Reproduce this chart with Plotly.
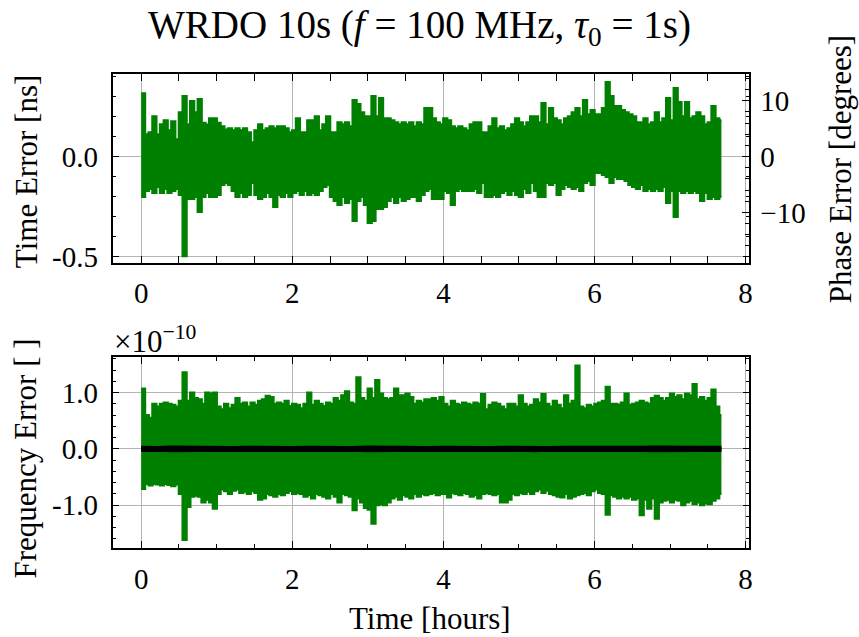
import numpy as np
import plotly.graph_objects as go

# ---------------- data ----------------
# sample spacing 0.05 h, from 0.00 to 7.65 h; local maxima / minima of each bin
time_hi_ns = [0.314, 0.11, 0.12, 0.20, 0.11, 0.16, 0.18, 0.13, 0.175, 0.085,
              0.22, 0.30, 0.16, 0.276, 0.22, 0.286, 0.167, 0.158, 0.19, 0.19,
              0.167, 0.15, 0.134, 0.14, 0.13, 0.14, 0.13, 0.14, 0.12, 0.07,
              0.13, 0.16, 0.13, 0.14, 0.15, 0.14, 0.15, 0.15, 0.14, 0.12,
              0.13, 0.19, 0.12, 0.12, 0.18, 0.18, 0.20, 0.13, 0.16, 0.20,
              0.12, 0.12, 0.17, 0.16, 0.17, 0.15, 0.28, 0.26, 0.22, 0.20,
              0.20, 0.30, 0.20, 0.29, 0.19, 0.19, 0.18, 0.17, 0.16, 0.17,
              0.16, 0.17, 0.15, 0.17, 0.16, 0.24, 0.24, 0.19, 0.17, 0.16,
              0.19, 0.18, 0.15, 0.14, 0.15, 0.14, 0.13, 0.16, 0.17, 0.17,
              0.12, 0.12, 0.15, 0.19, 0.14, 0.15, 0.13, 0.14, 0.16, 0.19,
              0.17, 0.15, 0.17, 0.20, 0.20, 0.17, 0.265, 0.16, 0.24, 0.19,
              0.18, 0.16, 0.19, 0.20, 0.22, 0.24, 0.20, 0.28, 0.21, 0.23,
              0.21, 0.21, 0.24, 0.37, 0.30, 0.25, 0.25, 0.23, 0.22, 0.21,
              0.20, 0.17, 0.17, 0.19, 0.16, 0.17, 0.22, 0.17, 0.19, 0.29,
              0.18, 0.34, 0.27, 0.20, 0.27, 0.19, 0.20, 0.22, 0.20, 0.16,
              0.17, 0.25, 0.19, 0.18]
time_lo_ns = [-0.20, -0.17, -0.16, -0.18, -0.15, -0.18, -0.16, -0.18, -0.17, -0.16,
              -0.19, -0.495, -0.21, -0.21, -0.20, -0.275, -0.20, -0.18, -0.20, -0.20,
              -0.19, -0.14, -0.13, -0.14, -0.17, -0.20, -0.18, -0.20, -0.19, -0.13,
              -0.19, -0.21, -0.20, -0.18, -0.20, -0.25, -0.19, -0.20, -0.18, -0.20,
              -0.18, -0.17, -0.19, -0.17, -0.19, -0.18, -0.19, -0.17, -0.15, -0.14,
              -0.20, -0.22, -0.24, -0.20, -0.23, -0.21, -0.32, -0.22, -0.20, -0.24,
              -0.33, -0.32, -0.26, -0.26, -0.25, -0.22, -0.20, -0.23, -0.20, -0.22,
              -0.21, -0.20, -0.20, -0.22, -0.19, -0.17, -0.16, -0.21, -0.21, -0.21,
              -0.17, -0.18, -0.24, -0.17, -0.16, -0.17, -0.17, -0.17, -0.16, -0.18,
              -0.13, -0.20, -0.20, -0.19, -0.20, -0.18, -0.17, -0.19, -0.17, -0.19,
              -0.20, -0.16, -0.18, -0.13, -0.17, -0.20, -0.20, -0.13, -0.14, -0.13,
              -0.19, -0.16, -0.14, -0.15, -0.16, -0.15, -0.17, -0.13, -0.12, -0.14,
              -0.08, -0.08, -0.09, -0.10, -0.13, -0.10, -0.11, -0.11, -0.12, -0.14,
              -0.15, -0.16, -0.14, -0.17, -0.16, -0.17, -0.16, -0.17, -0.15, -0.23,
              -0.17, -0.30, -0.17, -0.18, -0.17, -0.18, -0.17, -0.18, -0.22, -0.18,
              -0.21, -0.20, -0.21, -0.20]

# frequency error, units of 1e-10
freq_hi = [1.07, 0.60, 0.55, 0.80, 0.75, 0.80, 0.82, 0.80, 0.78, 0.75,
           0.85, 1.36, 0.85, 1.00, 0.90, 0.88, 0.80, 1.00, 0.98, 1.00,
           0.75, 0.70, 0.80, 0.72, 0.78, 0.90, 0.80, 0.82, 0.75, 0.82,
           0.78, 0.85, 0.88, 0.94, 0.92, 0.80, 0.82, 0.80, 0.85, 0.76,
           0.80, 0.78, 0.72, 0.80, 1.00, 0.78, 0.85, 0.80, 0.76, 0.82,
           0.80, 0.90, 0.85, 0.95, 1.02, 0.82, 0.80, 1.27, 0.90, 0.85,
           1.07, 0.90, 1.22, 0.98, 0.90, 0.88, 0.90, 1.07, 0.95, 0.95,
           0.98, 0.92, 0.80, 0.85, 0.82, 0.88, 0.88, 0.90, 0.85, 0.92,
           0.80, 0.75, 0.85, 0.80, 0.78, 0.82, 0.80, 0.78, 0.82, 0.80,
           0.97, 0.70, 0.78, 0.82, 0.80, 0.75, 0.70, 0.80, 0.80, 0.75,
           0.95, 0.80, 0.75, 0.78, 0.88, 0.82, 0.97, 0.80, 0.75, 0.85,
           0.78, 0.72, 0.95, 0.80, 0.85, 1.48, 0.75, 0.72, 0.78, 0.75,
           0.80, 0.82, 0.85, 1.10, 0.80, 0.80, 0.78, 0.82, 0.98, 0.78,
           0.80, 0.82, 0.85, 0.82, 0.80, 0.90, 0.94, 0.90, 0.85, 0.90,
           0.98, 0.92, 0.95, 0.88, 0.98, 0.95, 1.15, 0.88, 0.92, 0.85,
           0.90, 1.05, 0.75, 0.60]
freq_lo = [-0.71, -0.62, -0.65, -0.62, -0.63, -0.65, -0.62, -0.64, -0.66, -0.63,
           -0.80, -1.62, -1.03, -0.85, -0.83, -0.85, -0.95, -0.90, -0.95, -1.06,
           -0.80, -0.72, -0.75, -0.80, -0.74, -0.72, -0.78, -0.76, -0.80, -0.75,
           -0.78, -0.90, -0.88, -0.80, -0.82, -0.85, -0.80, -0.82, -0.78, -0.75,
           -0.80, -0.78, -0.80, -0.85, -0.82, -0.88, -0.80, -0.82, -0.85, -0.88,
           -0.80, -0.85, -0.95, -0.80, -0.82, -0.85, -1.09, -0.88, -0.95, -1.05,
           -1.08, -1.33, -1.00, -0.98, -1.00, -0.95, -0.88, -0.85, -0.90, -0.82,
           -0.85, -0.88, -0.80, -0.85, -0.80, -0.82, -0.80, -0.78, -0.82, -0.80,
           -0.80, -0.86, -0.78, -0.80, -0.82, -0.78, -0.80, -0.85, -0.82, -0.88,
           -0.80, -0.78, -0.80, -0.82, -0.80, -0.95, -0.95, -0.90, -0.80, -0.82,
           -0.78, -0.80, -0.76, -0.80, -0.75, -0.72, -0.78, -0.74, -0.80, -0.82,
           -0.85, -0.86, -0.80, -0.88, -0.85, -0.82, -0.80, -0.78, -0.82, -0.75,
           -0.72, -0.78, -0.80, -1.17, -0.82, -0.85, -0.88, -0.85, -0.88, -0.85,
           -0.90, -0.88, -1.18, -0.90, -1.06, -0.88, -1.24, -0.95, -0.92, -0.90,
           -0.95, -0.90, -0.92, -1.00, -0.95, -0.92, -0.98, -0.95, -1.00, -0.97,
           -0.98, -0.92, -0.88, -0.80]

# smoothed frequency error (black), units of 1e-10, spacing 0.2 h
avg_hi = [0.03, 0.025, 0.035, 0.03, 0.025, 0.03, 0.025, 0.03, 0.025, 0.03,
          0.025, 0.03, 0.025, 0.03, 0.025, 0.035, 0.03, 0.025, 0.03, 0.025,
          0.03, 0.025, 0.03, 0.025, 0.03, 0.025, 0.03, 0.025, 0.03, 0.035,
          0.03, 0.03, 0.025, 0.03, 0.035, 0.03, 0.03, 0.03, 0.03]
avg_lo = [-0.03, -0.025, -0.035, -0.03, -0.025, -0.03, -0.025, -0.03, -0.025, -0.03,
          -0.025, -0.03, -0.025, -0.03, -0.025, -0.035, -0.03, -0.025, -0.03, -0.025,
          -0.03, -0.025, -0.03, -0.025, -0.03, -0.025, -0.035, -0.025, -0.03, -0.035,
          -0.03, -0.03, -0.025, -0.03, -0.035, -0.03, -0.03, -0.03, -0.03]

SAMPLE_H = 0.05
AVG_H = 0.2
T_END_H = 7.68
NU_HZ = 100e6

GREEN = "#008000"
FONT = "Liberation Serif"
TS = 29      # tick labels
LS = 31      # axis labels

fig = go.Figure()

def band(hi, lo, step, color, xa, ya, width, shape):
    t = [i * step for i in range(len(hi))] + [T_END_H]
    yh = list(hi) + [hi[-1]]
    yl = list(lo) + [lo[-1]]
    fig.add_trace(go.Scatter(x=t, y=yh, mode="lines", line=dict(color=color, width=width, shape=shape),
                             xaxis=xa, yaxis=ya, showlegend=False, hoverinfo="skip"))
    fig.add_trace(go.Scatter(x=t, y=yl, mode="lines", line=dict(color=color, width=width, shape=shape),
                             fill="tonexty", fillcolor=color,
                             xaxis=xa, yaxis=ya, showlegend=False, hoverinfo="skip"))

band(time_hi_ns, time_lo_ns, SAMPLE_H, GREEN, "x", "y", 2.5, "hv")
band(freq_hi, freq_lo, SAMPLE_H, GREEN, "x2", "y2", 2.5, "hv")
band(avg_hi, avg_lo, AVG_H, "black", "x2", "y2", 3, "linear")

W, H = 859, 637
xl, xr = 113 / W, 752 / W
top_dom = [1 - 267 / H, 1 - 75 / H]
bot_dom = [1 - 557 / H, 1 - 363 / H]
xrange_ = [-0.378, 8.05]
top_range = [-0.529, 0.412]
phase_range = [v * 1e-9 * NU_HZ * 360 for v in top_range]
bot_range = [-1.77, 1.63]

common = dict(showline=True, linecolor="black", linewidth=1.6, mirror="allticks",
              ticks="inside", ticklen=7, tickwidth=1.3, tickcolor="black",
              showgrid=True, gridcolor="#b4b4b4", gridwidth=1.2, zeroline=False,
              tickfont=dict(family=FONT, size=TS, color="black"))

xcommon = dict(common, range=xrange_, tickvals=[0, 2, 4, 6, 8],
               ticktext=["0", "2", "4", "6", "8"], ticklabelstandoff=4,
               minor=dict(ticks="inside", ticklen=4, tickwidth=1.2, dtick=0.5,
                          tick0=0, tickcolor="black", showgrid=False))

fig.update_layout(
    width=W, height=H, margin=dict(l=0, r=0, t=0, b=0), autosize=False,
    plot_bgcolor="white", paper_bgcolor="white",
    xaxis=dict(xcommon, domain=[xl, xr], anchor="y"),
    xaxis2=dict(xcommon, domain=[xl, xr], anchor="y2", matches="x"),
    yaxis=dict(common, domain=top_dom, anchor="x", range=top_range,
               tickvals=[-0.5, 0.0], ticktext=["-0.5", "0.0"], ticklabelstandoff=7,
               minor=dict(ticks="inside", ticklen=4, tickwidth=1.2, dtick=0.1,
                          tick0=0, tickcolor="black", showgrid=False)),
    yaxis3=dict(showline=False, overlaying="y", side="right", anchor="x",
                range=phase_range, ticks="inside", ticklen=7, tickwidth=1.3,
                tickcolor="black", showgrid=False, zeroline=False,
                tickvals=[-10, 0, 10], ticktext=["−10", "0", "10"],
                ticklabelstandoff=10,
                tickfont=dict(family=FONT, size=TS, color="black"),
                minor=dict(ticks="inside", ticklen=4, tickwidth=1.2, dtick=2,
                           tick0=0, tickcolor="black", showgrid=False)),
    yaxis2=dict(common, domain=bot_dom, anchor="x2", range=bot_range,
                tickvals=[-1.0, 0.0, 1.0], ticktext=["-1.0", "0.0", "1.0"],
                ticklabelstandoff=7,
                minor=dict(ticks="inside", ticklen=4, tickwidth=1.2, dtick=0.2,
                           tick0=0, tickcolor="black", showgrid=False)),
)
# empty trace so the phase axis is drawn
fig.add_trace(go.Scatter(x=[None], y=[None], xaxis="x", yaxis="y3", showlegend=False))

def ann(text, x, y, size=LS, angle=0, xanchor="center", yanchor="middle"):
    fig.add_annotation(text=text, x=x / W, y=1 - y / H, xref="paper", yref="paper",
                       showarrow=False, textangle=angle, xanchor=xanchor, yanchor=yanchor,
                       font=dict(family=FONT, size=size, color="black"))

ann("WRDO 10s (<i>f</i> = 100 MHz, <i>τ</i><sub>0</sub> = 1s)", 421, 28, size=39)
ann("Time Error [ns]", 26, 174, angle=-90)
ann("Phase Error [degrees]", 843, 172, angle=-90)
ann("Frequency Error [ ]", 26, 466, angle=-90)
ann("Time [hours]", 432, 628)
ann("×10<sup>−10</sup>", 112, 345, xanchor="left")

fig.write_html("out.html")
